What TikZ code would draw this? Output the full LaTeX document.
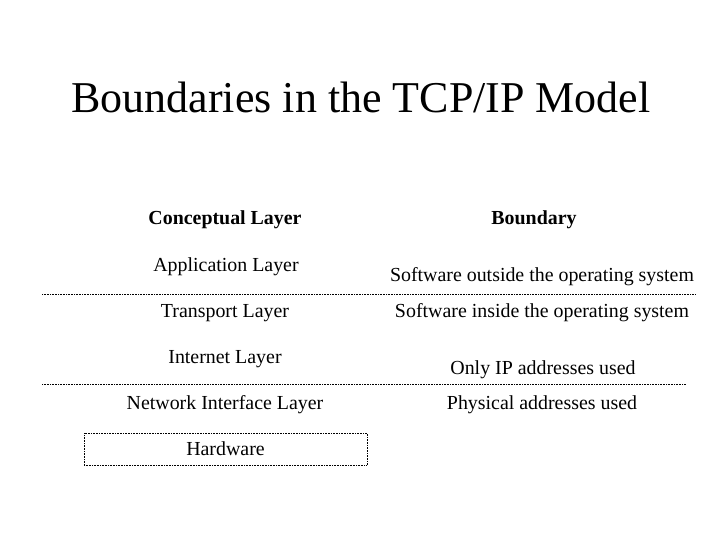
\documentclass[tikz,border=0pt]{standalone}
\usepackage{fontspec}
\setmainfont{Liberation Serif}
\begin{document}
\begin{tikzpicture}[x=1pt,y=-1pt,
  txt/.style={inner sep=0pt,font=\fontsize{19.9}{22}\selectfont},
  hdr/.style={txt,font=\fontsize{19.9}{22}\selectfont\bfseries},
  sep/.style={densely dotted,line width=0.6pt}]
\useasboundingbox (0,0) rectangle (720,540);
\node[inner sep=0pt,font=\fontsize{44}{48}\selectfont] (title) at (361,97) {Boundaries in the TCP/IP Model};
\node[hdr] (h1) at (225,220) {Conceptual Layer};
\node[hdr] (h2) at (534,220) {Boundary};
\node[txt] (a) at (226,267) {Application Layer};
\node[txt] (t) at (225,313) {Transport Layer};
\node[txt] (i) at (225,359) {Internet Layer};
\node[txt] (n) at (225,405) {Network Interface Layer};
\node[txt] (b1) at (542,277) {Software outside the operating system};
\node[txt] (b2) at (542,313) {Software inside the operating system};
\node[txt] (b3) at (543,370) {Only IP addresses used};
\node[txt] (b4) at (542,405) {Physical addresses used};
\coordinate (l1a) at (42,294); \coordinate (l1b) at (696,294);
\coordinate (l2a) at (42,384); \coordinate (l2b) at (686,384);
\draw[sep] (l1a) -- (l1b);
\draw[sep] (l2a) -- (l2b);
\node[draw,sep,minimum width=283pt,minimum height=32pt,inner sep=0pt,font=\fontsize{19.9}{22}\selectfont] (hw) at (225.5,449) {Hardware};
\end{tikzpicture}
\end{document}
